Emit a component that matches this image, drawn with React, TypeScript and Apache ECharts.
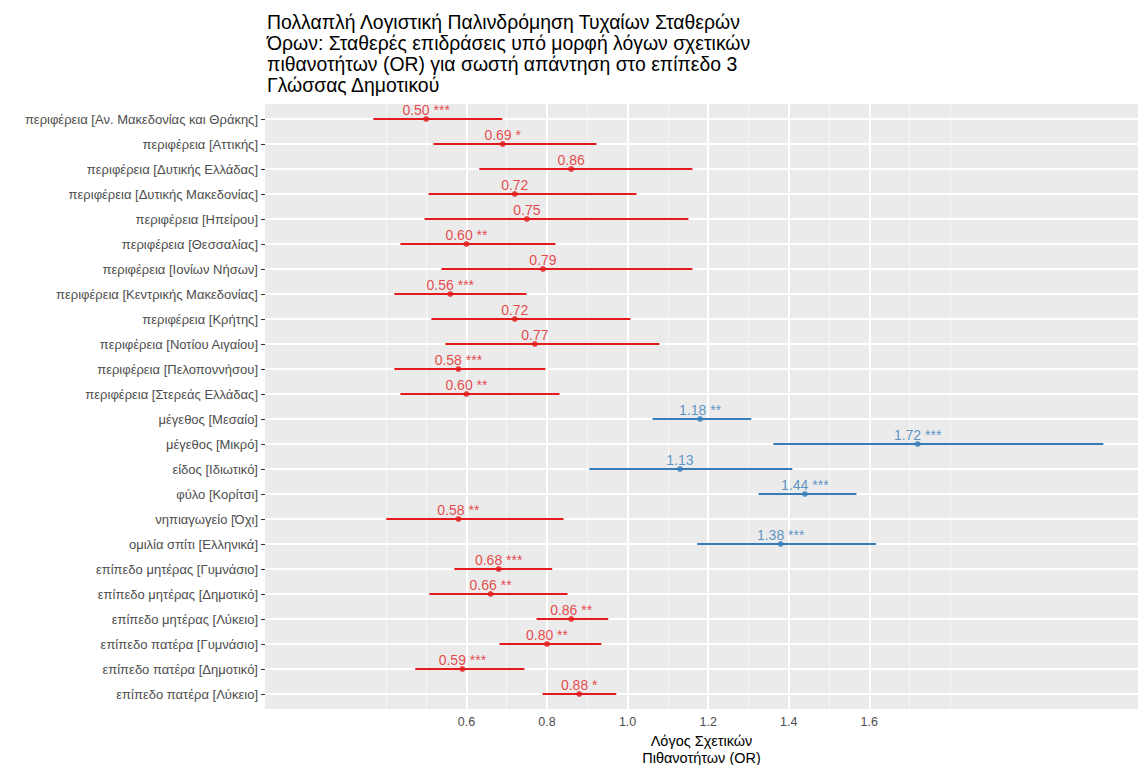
import React, { useEffect, useRef } from "react";
import * as echarts from "echarts";

const categories = [
  "περιφέρεια [Αν. Μακεδονίας και Θράκης]",
  "περιφέρεια [Αττικής]",
  "περιφέρεια [Δυτικής Ελλάδας]",
  "περιφέρεια [Δυτικής Μακεδονίας]",
  "περιφέρεια [Ηπείρου]",
  "περιφέρεια [Θεσσαλίας]",
  "περιφέρεια [Ιονίων Νήσων]",
  "περιφέρεια [Κεντρικής Μακεδονίας]",
  "περιφέρεια [Κρήτης]",
  "περιφέρεια [Νοτίου Αιγαίου]",
  "περιφέρεια [Πελοποννήσου]",
  "περιφέρεια [Στερεάς Ελλάδας]",
  "μέγεθος [Μεσαίο]",
  "μέγεθος [Μικρό]",
  "είδος [Ιδιωτικό]",
  "φύλο [Κορίτσι]",
  "νηπιαγωγείο [Όχι]",
  "ομιλία σπίτι [Ελληνικά]",
  "επίπεδο μητέρας [Γυμνάσιο]",
  "επίπεδο μητέρας [Δημοτικό]",
  "επίπεδο μητέρας [Λύκειο]",
  "επίπεδο πατέρα [Γυμνάσιο]",
  "επίπεδο πατέρα [Δημοτικό]",
  "επίπεδο πατέρα [Λύκειο]",
];

const estimates = [
  0.5, 0.69, 0.86, 0.72, 0.75, 0.6, 0.79, 0.56, 0.72, 0.77, 0.58, 0.6,
  1.18, 1.72, 1.13, 1.44, 0.58, 1.38, 0.68, 0.66, 0.86, 0.8, 0.59, 0.88,
];

const lowerCI = [
  0.369, 0.518, 0.632, 0.506, 0.496, 0.436, 0.538, 0.421, 0.513, 0.548, 0.421, 0.436,
  1.062, 1.362, 0.905, 1.325, 0.401, 1.173, 0.57, 0.508, 0.774, 0.682, 0.473, 0.789,
];

const upperCI = [
  0.689, 0.923, 1.161, 1.022, 1.151, 0.821, 1.161, 0.749, 1.007, 1.079, 0.796, 0.831,
  1.307, 2.181, 1.409, 1.568, 0.841, 1.617, 0.813, 0.851, 0.952, 0.935, 0.744, 0.972,
];

const stars = [
  "***", "*", "", "", "", "**", "", "***", "", "", "***", "**",
  "**", "***", "", "***", "**", "***", "***", "**", "**", "**", "***", "*",
];

const xTickValues = [0.6, 0.8, 1.0, 1.2, 1.4, 1.6];
const xMinorGrid = [0.4, 0.5, 0.7, 0.9, 1.1, 1.3, 1.5, 1.7, 1.8];

const titleText =
  "Πολλαπλή Λογιστική Παλινδρόμηση Τυχαίων Σταθερών\nΌρων: Σταθερές επιδράσεις υπό μορφή λόγων σχετικών\nπιθανοτήτων (OR) για σωστή απάντηση στο επίπεδο 3\nΓλώσσας Δημοτικού";
const xAxisTitle = "Λόγος Σχετικών\nΠιθανοτήτων (OR)";

const RED = "#e41a1c";
const BLUE = "#377eb8";
const FONT = "'Liberation Sans', Arial, sans-serif";

export default function App() {
  const ref = useRef<HTMLDivElement>(null);

  useEffect(() => {
    if (!ref.current) return;
    const chart = echarts.init(ref.current, undefined, { renderer: "svg" });
    const idx = categories.map((_, i) => i);
    const colorOf = (v: number) => (v < 1 ? RED : BLUE);

    chart.setOption({
      animation: false,
      textStyle: { fontFamily: FONT },
      title: {
        text: titleText,
        left: 262,
        top: 6,
        textStyle: {
          fontFamily: FONT,
          fontSize: 19.4,
          fontWeight: "normal",
          color: "#000",
          lineHeight: 21,
        },
      },
      grid: {
        left: 265,
        right: 0,
        top: 104,
        bottom: 765 - 709,
        show: true,
        backgroundColor: "#ebebeb",
        borderWidth: 0,
        containLabel: false,
        outerBoundsMode: "none",
      },
      xAxis: {
        type: "value",
        min: 0.1,
        max: 2.267,
        name: xAxisTitle,
        nameLocation: "middle",
        nameGap: 23,
        nameTextStyle: { fontFamily: FONT, fontSize: 14.5, color: "#000", lineHeight: 16.5 },
        axisLine: { show: false },
        splitLine: { show: false },
        axisTick: {
          show: true,
          length: 4,
          customValues: xTickValues,
          lineStyle: { color: "#333", width: 1 },
        },
        axisLabel: {
          customValues: xTickValues,
          margin: 6,
          fontSize: 12.5,
          color: "#4d4d4d",
          formatter: (v: number) => v.toFixed(1),
        },
      },
      yAxis: {
        type: "value",
        min: -0.6,
        max: 23.6,
        inverse: true,
        axisLine: { show: false },
        splitLine: { show: false },
        axisTick: {
          show: true,
          length: 4,
          customValues: idx,
          lineStyle: { color: "#333", width: 1 },
        },
        axisLabel: {
          customValues: idx,
          margin: 7,
          fontSize: 13,
          color: "#4d4d4d",
          formatter: (v: number) => categories[Math.round(v)] ?? "",
        },
      },
      series: [
        {
          type: "scatter",
          data: [],
          silent: true,
          z: 1,
          markLine: {
            silent: true,
            symbol: "none",
            animation: false,
            z: 1,
            label: { show: false },
            data: [
              ...xMinorGrid.map((v) => ({
                xAxis: v,
                lineStyle: { color: "#f7f7f7", width: 1, type: "solid" },
              })),
              ...xTickValues.map((v) => ({
                xAxis: v,
                lineStyle: { color: "#ffffff", width: 2, type: "solid" },
              })),
              ...idx.map((i) => ({
                yAxis: i,
                lineStyle: { color: "#ffffff", width: 2, type: "solid" },
              })),
            ],
          },
        },
        {
          type: "custom",
          z: 3,
          data: idx.map((i) => [lowerCI[i], upperCI[i], i, estimates[i]]),
          encode: { x: [0, 1], y: 2 },
          renderItem: (params: any, api: any) => {
            const p1 = api.coord([api.value(0), api.value(2)]);
            const p2 = api.coord([api.value(1), api.value(2)]);
            return {
              type: "line",
              shape: { x1: p1[0], y1: p1[1], x2: p2[0], y2: p2[1] },
              style: { stroke: colorOf(api.value(3)), lineWidth: 2 },
            };
          },
        },
        {
          type: "scatter",
          z: 4,
          symbol: "circle",
          symbolSize: 6,
          data: idx.map((i) => ({
            value: [estimates[i], i],
            itemStyle: { color: colorOf(estimates[i]) },
            label: { color: colorOf(estimates[i]) },
          })),
          label: {
            show: true,
            position: "top",
            distance: -1,
            fontSize: 14,
            fontFamily: FONT,
            formatter: (p: any) => {
              const i = p.value[1];
              const s = stars[i];
              return estimates[i].toFixed(2) + (s ? " " + s : "");
            },
          },
        },
      ],
    });

    return () => chart.dispose();
  }, []);

  return (
    <div
      ref={ref}
      style={{ position: "absolute", left: 0, top: 0, width: 1138, height: 765 }}
    />
  );
}
